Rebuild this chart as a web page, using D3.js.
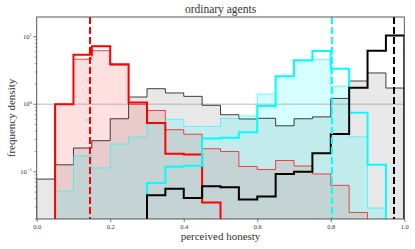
<!DOCTYPE html>
<html><head><meta charset="utf-8">
<script src="https://cdn.jsdelivr.net/npm/d3@7"></script>
<style>
html,body{margin:0;padding:0;background:#fff;}
svg{display:block;}
</style></head>
<body>
<svg id="chart" width="415" height="249" font-family="Liberation Serif, DejaVu Serif, serif"></svg>
<script>
// ---- data ----
const binStarts = [0,0.05,0.10,0.15,0.20,0.25,0.30,0.35,0.40,0.45,0.50,0.55,0.60,0.65,0.70,0.75,0.80,0.85,0.90,0.95];
const binWidth = 0.05;
const redStep   = [0,1.0,5.43,7.23,3.91,1.06,0.53,0.185,0.18,0.035,0,0,0,0,0,0,0,0,0,0];
const redFill   = [0,1.0,4.64,6.22,3.8,1.0,0.81,0.42,0.36,0.22,0.20,0.12,0.108,0.147,0.122,0.093,0.063,0.025,0,0];
const cyanStep  = [0,0,0,0,0,0,0.068,0.119,0.123,0.31,0.32,0.385,0.94,2.6,4.49,6.16,3.37,0.75,0.127,0];
const cyanFill  = [0,0.052,0.173,0.114,0.258,0.328,0.51,0.6,0.47,0.47,0.62,0.67,1.41,2.6,4.4,4.58,1.85,0.33,0.029,0];
const blackStep = [0,0,0,0,0,0,0.045,0.056,0.041,0.061,0.059,0.039,0.043,0.093,0.1,0.188,0.363,1.76,6.22,10.4];
const blackFill = [0.078,0.127,0.225,0.289,0.61,1.28,1.70,1.47,1.31,0.966,0.70,0.606,0.62,0.48,0.61,0.65,1.22,2.21,2.91,1.74];
const meanRed = 0.145, meanCyan = 0.803, meanBlack = 0.972;
const refLine = 1;
const xTicks = [0,0.2,0.4,0.6,0.8,1.0];
const yMajor = [0.1,1,10];
const yMajorLabels = [["10","\u22121"],["10","0"],["10","1"]];
const title = "ordinary agents", xLabel = "perceived honesty", yLabel = "frequency density";

// ---- layout ----
const W = 415, H = 249;
const m = {left:36.7, top:17, right:415-404.3, bottom:249-219};
const iw = W - m.left - m.right, ih = H - m.top - m.bottom;
const svg = d3.select("#chart");
const yDom = [0.02, 19.6];
const x = d3.scaleLinear().domain([0,1]).range([0, iw]);
const y = d3.scaleLog().domain(yDom).range([ih, 0]);

const g = svg.append("g").attr("transform",`translate(${m.left},${m.top})`);
svg.append("defs").append("clipPath").attr("id","clip")
  .append("rect").attr("x",0).attr("y",0).attr("width",iw).attr("height",ih);
const plot = g.append("g").attr("clip-path","url(#clip)");

function stepPath(vals){
  const first = vals.findIndex(v=>v>0);
  let last = -1; vals.forEach((v,i)=>{ if(v>0) last=i; });
  const yb = y(yDom[0]) + 2;
  const pts = [[x(binStarts[first]), yb]];
  for(let i=first;i<=last;i++){
    const yy = vals[i] > 0 ? y(vals[i]) : yb;
    pts.push([x(binStarts[i]), yy]);
    pts.push([x(binStarts[i]+binWidth), yy]);
  }
  pts.push([x(binStarts[last]+binWidth), yb]);
  return d3.line()(pts);
}

// filled histograms
const fills = [
  {vals:blackFill, fill:"#000", fo:0.09, stroke:"#111", so:0.8},
  {vals:redFill,   fill:"#ff0000", fo:0.12, stroke:"#ff0000", so:0.72},
  {vals:cyanFill,  fill:"#00ffff", fo:0.16, stroke:"#00ffff", so:0.6},
];
fills.forEach(f=>{
  plot.append("path").attr("d", stepPath(f.vals)+"Z")
    .attr("fill", f.fill).attr("fill-opacity", f.fo).attr("stroke","none");
});
// reference line at 1
plot.append("line").attr("x1",0).attr("x2",iw).attr("y1",y(refLine)).attr("y2",y(refLine))
  .attr("stroke","#999").attr("stroke-opacity",0.45).attr("stroke-width",1.5);
fills.forEach(f=>{
  plot.append("path").attr("d", stepPath(f.vals))
    .attr("fill","none").attr("stroke", f.stroke).attr("stroke-opacity", f.so).attr("stroke-width",1);
});
// thick step histograms
[[redStep,"#ff0000"],[cyanStep,"#00ffff"],[blackStep,"#000"]].forEach(([vals,c])=>{
  plot.append("path").attr("d", stepPath(vals))
    .attr("fill","none").attr("stroke", c).attr("stroke-width",2).attr("stroke-linejoin","miter");
});
// mean lines
[[meanRed,"#ff0000"],[meanCyan,"#00ffff"],[meanBlack,"#000"]].forEach(([v,c])=>{
  plot.append("line").attr("x1",x(v)).attr("x2",x(v)).attr("y1",0).attr("y2",ih)
    .attr("stroke",c).attr("stroke-width",2).attr("stroke-dasharray","7,3");
});

// frame
g.append("rect").attr("x",0).attr("y",0).attr("width",iw).attr("height",ih)
  .attr("fill","none").attr("stroke","#444").attr("stroke-width",0.9);

// x axis
const xa = g.append("g").attr("transform",`translate(0,${ih})`)
  .call(d3.axisBottom(x).tickValues(xTicks).tickSize(3).tickPadding(2).tickFormat(d3.format(".1f")));
xa.attr("font-family",null);
xa.select(".domain").remove();
xa.selectAll("line").attr("stroke","#444").attr("stroke-width",0.7);
xa.selectAll("text").attr("font-size",6.5).attr("fill","#333");

// y axis: minor ticks
const minor = [];
[0.01,0.1,1].forEach(d=>{ for(let k=2;k<=9;k++){ const v=d*k; if(v>=yDom[0]&&v<=yDom[1]) minor.push(v);} });
g.append("g").selectAll("line").data(minor).join("line")
  .attr("x1",-2).attr("x2",0).attr("y1",d=>y(d)).attr("y2",d=>y(d))
  .attr("stroke","#444").attr("stroke-width",0.5);
g.append("g").selectAll("line").data(yMajor).join("line")
  .attr("x1",-3.5).attr("x2",0).attr("y1",d=>y(d)).attr("y2",d=>y(d))
  .attr("stroke","#444").attr("stroke-width",0.7);
const yl = g.append("g").selectAll("text").data(yMajor).join("text")
  .attr("x",-5).attr("y",d=>y(d)+2.2).attr("text-anchor","end")
  .attr("font-size",6.5).attr("fill","#333");
yl.each(function(d,i){
  const t = d3.select(this);
  t.append("tspan").text(yMajorLabels[i][0]);
  t.append("tspan").attr("dy",-2.6).attr("font-size",4.6).text(yMajorLabels[i][1]);
});

// labels
svg.append("text").attr("x",m.left+iw/2).attr("y",12.6).attr("text-anchor","middle")
  .attr("font-size",11.5).attr("fill","#333").text(title);
svg.append("text").attr("x",m.left+iw/2).attr("y",240).attr("text-anchor","middle")
  .attr("font-size",11).attr("fill","#333").text(xLabel);
svg.append("text").attr("transform",`translate(14.5,${m.top+ih/2}) rotate(-90)`)
  .attr("text-anchor","middle").attr("font-size",11).attr("fill","#333").text(yLabel);
</script>
</body></html>
